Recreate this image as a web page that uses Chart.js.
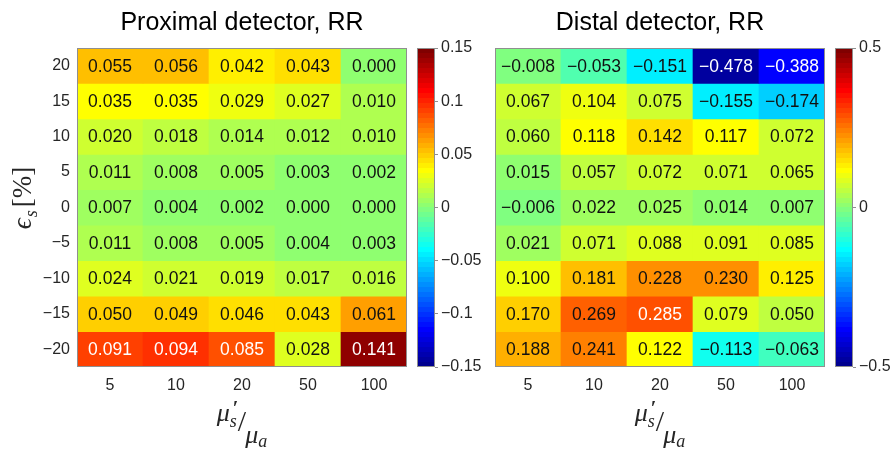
<!DOCTYPE html>
<html>
<head>
<meta charset="utf-8">
<script src="https://cdn.jsdelivr.net/npm/chart.js@4.4.1/dist/chart.umd.min.js"></script>
<style>
  body { margin: 0; background: #fff; }
  #wrap { position: relative; width: 891px; height: 454px; overflow: hidden; }
  canvas { position: absolute; top: 0; }
</style>
</head>
<body>
<div id="wrap">
  <canvas id="proxChart" width="412" height="454" style="left:0"></canvas>
  <canvas id="proxBar" width="70" height="454" style="left:412px"></canvas>
  <canvas id="distChart" width="380" height="454" style="left:450px"></canvas>
  <canvas id="distBar" width="61" height="454" style="left:830px"></canvas>
</div>
<script>
// x categories (mu_s' / mu_a) and y rows (epsilon_s in %)
const muRatio = ['5', '10', '20', '50', '100'];
const epsilon = [20, 15, 10, 5, 0, -5, -10, -15, -20];

// relative error, rows follow epsilon (top to bottom)
const proximalRR = [
    [0.055, 0.056, 0.042, 0.043, 0.000],
    [0.035, 0.035, 0.029, 0.027, 0.010],
    [0.020, 0.018, 0.014, 0.012, 0.010],
    [0.011, 0.008, 0.005, 0.003, 0.002],
    [0.007, 0.004, 0.002, 0.000, 0.000],
    [0.011, 0.008, 0.005, 0.004, 0.003],
    [0.024, 0.021, 0.019, 0.017, 0.016],
    [0.050, 0.049, 0.046, 0.043, 0.061],
    [0.091, 0.094, 0.085, 0.028, 0.141]
];
const distalRR = [
    [-0.008, -0.053, -0.151, -0.478, -0.388],
    [0.067, 0.104, 0.075, -0.155, -0.174],
    [0.060, 0.118, 0.142, 0.117, 0.072],
    [0.015, 0.057, 0.072, 0.071, 0.065],
    [-0.006, 0.022, 0.025, 0.014, 0.007],
    [0.021, 0.071, 0.088, 0.091, 0.085],
    [0.100, 0.181, 0.228, 0.230, 0.125],
    [0.170, 0.269, 0.285, 0.079, 0.050],
    [0.188, 0.241, 0.122, -0.113, -0.063]
];

const proximalTicks = [-0.15, -0.1, -0.05, 0, 0.05, 0.1, 0.15];
const distalTicks = [-0.5, 0, 0.5];

const MINUS = '\u2212';
const SANS = '"Liberation Sans", Arial, Helvetica, sans-serif';
const SERIF = '"Liberation Serif", "DejaVu Serif", serif';
const FRAME = '#8f8f8f';
const TEXT = '#262626';

// matlab jet(64)
function jetU(i) {
    if (i < 1 || i > 47) return 0;
    if (i <= 16) return i / 16;
    if (i <= 31) return 1;
    return (48 - i) / 16;
}
function jet(k) {
    return [jetU(k - 24), jetU(k - 8), jetU(k + 8)];
}
function colorIndex(v, lo, hi) {
    let k = Math.floor((v - lo) / (hi - lo) * 64) + 1;
    return Math.min(64, Math.max(1, k));
}
function rgb(c) {
    return 'rgb(' + c.map(x => Math.round(x * 255)).join(',') + ')';
}
function fmtCell(v) {
    let s = Math.abs(v).toFixed(3);
    return (v < 0 && s !== '0.000' ? MINUS : '') + s;
}
function fmtTick(v) {
    return (v < 0 ? MINUS : '') + String(Math.abs(v));
}

// grey box round the plot area
const frame = {
    id: 'frame',
    afterDatasetsDraw(chart) {
        const a = chart.chartArea;
        const ctx = chart.ctx;
        ctx.save();
        ctx.strokeStyle = FRAME;
        ctx.lineWidth = 1;
        ctx.strokeRect(Math.round(a.left) + 0.5, Math.round(a.top) + 0.5,
            Math.round(a.right - a.left) - 1, Math.round(a.bottom - a.top) - 1);
        ctx.restore();
    }
};

function cellLabels(lo, hi) {
    return {
        id: 'cellLabels',
        afterDatasetsDraw(chart) {
            const ctx = chart.ctx;
            ctx.save();
            ctx.font = '17.5px ' + SANS;
            ctx.textAlign = 'center';
            ctx.textBaseline = 'middle';
            chart.data.datasets.forEach((ds, i) => {
                chart.getDatasetMeta(i).data.forEach((bar, j) => {
                    const v = ds.values[j];
                    const c = jet(colorIndex(v, lo, hi));
                    const lum = 0.299 * c[0] + 0.587 * c[1] + 0.114 * c[2];
                    ctx.fillStyle = lum < 0.5 ? '#ffffff' : '#111111';
                    ctx.fillText(fmtCell(v), bar.x, (bar.y + bar.base) / 2 + 1);
                });
            });
            ctx.restore();
        }
    };
}

// draws a run of [text, font, dx, dy, advance?] pieces one after another
function drawPieces(ctx, pieces) {
    let x = 0;
    pieces.forEach(p => {
        ctx.font = p[1];
        ctx.fillText(p[0], x + p[2], p[3]);
        if (p[4] !== false) x += ctx.measureText(p[0]).width + p[2];
    });
    return x;
}

const xTitle = {
    id: 'xTitle',
    afterDraw(chart) {
        const ctx = chart.ctx;
        const a = chart.chartArea;
        const pieces = [
            ['\u03bc', 'italic 26px ' + SERIF, 0, 0],
            ['\u2032', 'bold 20px ' + SERIF, 3, -6, false],
            ['s', 'italic 18px ' + SERIF, 0, 6],
            ['/', '30px ' + SERIF, 1, 10],
            ['\u03bc', 'italic 26px ' + SERIF, -1, 22],
            ['a', 'italic 18px ' + SERIF, 0, 26]
        ];
        ctx.save();
        ctx.fillStyle = TEXT;
        ctx.textBaseline = 'alphabetic';
        ctx.globalAlpha = 0;
        const w = drawPieces(ctx, pieces);
        ctx.globalAlpha = 1;
        ctx.translate((a.left + a.right) / 2 - w / 2, 421);
        drawPieces(ctx, pieces);
        ctx.restore();
    }
};

const yTitle = {
    id: 'yTitle',
    afterDraw(chart) {
        const ctx = chart.ctx;
        const pieces = [
            ['\u03f5', 'italic 27px ' + SERIF, 0, 0],
            ['s', 'italic 18px ' + SERIF, 1, 6],
            ['[%]', '27px ' + SERIF, 3, 0]
        ];
        ctx.save();
        ctx.fillStyle = TEXT;
        ctx.textBaseline = 'alphabetic';
        ctx.globalAlpha = 0;
        const w = drawPieces(ctx, pieces);
        ctx.globalAlpha = 1;
        ctx.translate(31, 198 + w / 2);
        ctx.rotate(-Math.PI / 2);
        drawPieces(ctx, pieces);
        ctx.restore();
    }
};

function makeHeatmap(id, title, values, lo, hi, showY) {
    const datasets = epsilon.map((e, r) => ({
        label: String(e),
        data: values[r].map(() => [e - 2.5, e + 2.5]),
        values: values[r],
        backgroundColor: values[r].map(v => rgb(jet(colorIndex(v, lo, hi)))),
        borderWidth: 0,
        borderSkipped: false,
        barPercentage: 1,
        categoryPercentage: 1,
        grouped: false
    }));
    const plugins = [cellLabels(lo, hi), frame, xTitle];
    if (showY) plugins.push(yTitle);

    new Chart(document.getElementById(id), {
        type: 'bar',
        data: { labels: muRatio, datasets: datasets },
        options: {
            responsive: false,
            animation: false,
            layout: { padding: { left: showY ? 0 : 45, right: 5, top: 0, bottom: 0 } },
            plugins: {
                legend: { display: false },
                tooltip: { enabled: false },
                title: {
                    display: true,
                    text: title,
                    fullSize: false,
                    color: '#000',
                    font: { family: SANS, size: 25, weight: 'normal', lineHeight: 1.2 },
                    padding: { top: 8, bottom: 10 }
                }
            },
            scales: {
                x: {
                    grid: { display: false, drawTicks: false },
                    border: { display: false },
                    ticks: { color: TEXT, font: { family: SANS, size: 16 }, padding: 9 },
                    afterFit: s => { s.height = 87; }
                },
                y: {
                    display: showY,
                    min: -22.5,
                    max: 22.5,
                    grid: { display: false, drawTicks: false },
                    border: { display: false },
                    afterBuildTicks: s => { s.ticks = epsilon.map(v => ({ value: v })); },
                    ticks: { color: TEXT, font: { family: SANS, size: 16 }, padding: 7, callback: v => fmtTick(v) },
                    afterFit: s => { s.width = showY ? 77 : 0; }
                }
            }
        },
        plugins: plugins
    });
}

function makeColorbar(id, lo, hi, ticks) {
    new Chart(document.getElementById(id), {
        type: 'bar',
        data: {
            labels: [''],
            datasets: [{
                data: [[lo, hi]],
                borderWidth: 0,
                barPercentage: 1,
                categoryPercentage: 1,
                backgroundColor: c => {
                    const a = c.chart.chartArea;
                    if (!a) return null;
                    const g = c.chart.ctx.createLinearGradient(0, a.bottom, 0, a.top);
                    for (let k = 1; k <= 64; k++) {
                        const col = rgb(jet(k));
                        g.addColorStop((k - 1) / 64, col);
                        g.addColorStop(k / 64, col);
                    }
                    return g;
                }
            }]
        },
        options: {
            responsive: false,
            animation: false,
            layout: { padding: { left: 5, right: 0, top: 48, bottom: 87 } },
            plugins: { legend: { display: false }, tooltip: { enabled: false } },
            scales: {
                x: { display: false },
                y: {
                    position: 'right',
                    min: lo,
                    max: hi,
                    grid: { drawOnChartArea: false, drawTicks: true, tickLength: 3, color: FRAME },
                    border: { display: false },
                    afterBuildTicks: s => { s.ticks = ticks.map(v => ({ value: v })); },
                    ticks: { color: TEXT, font: { family: SANS, size: 16 }, padding: 3, callback: v => fmtTick(v) },
                    afterFit: s => { s.width = id === 'proxBar' ? 47 : 38; }
                }
            }
        },
        plugins: [frame]
    });
}

makeHeatmap('proxChart', 'Proximal detector, RR', proximalRR, -0.15, 0.15, true);
makeColorbar('proxBar', -0.15, 0.15, proximalTicks);
makeHeatmap('distChart', 'Distal detector, RR', distalRR, -0.5, 0.5, false);
makeColorbar('distBar', -0.5, 0.5, distalTicks);
</script>
</body>
</html>
